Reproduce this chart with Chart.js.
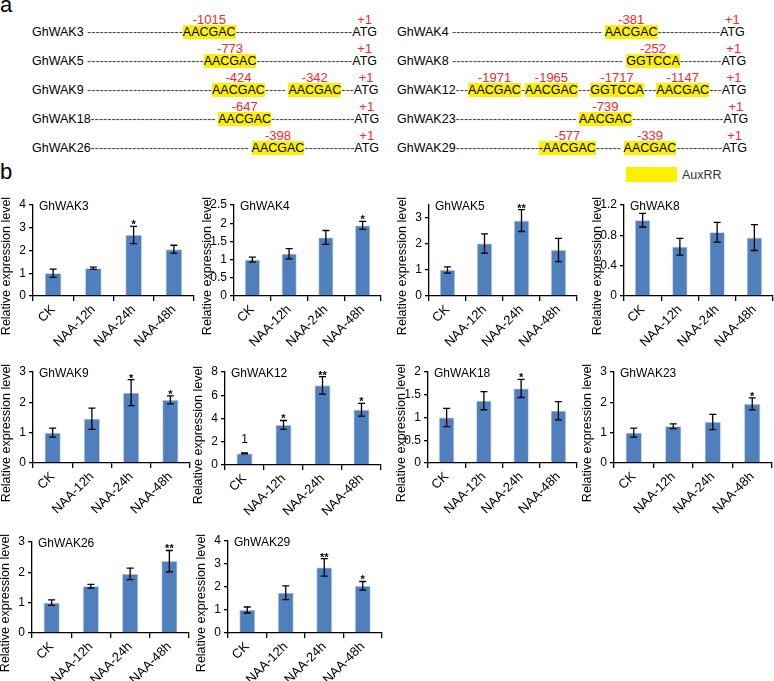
<!DOCTYPE html>
<html>
<head>
<meta charset="utf-8">
<script src="https://cdn.jsdelivr.net/npm/chart.js@4.4.1/dist/chart.umd.min.js"></script>
<style>
  html, body { margin: 0; padding: 0; background: #fff; }
  body { width: 774px; height: 681px; position: relative; overflow: hidden;
         font-family: 'Liberation Sans', Arial, sans-serif; }
  .tag { position: absolute; left: 0; font-size: 22px; line-height: 22px; color: #000; }
  .col { position: absolute; top: 17.5px; font-size: 12.5px; line-height: 29px; white-space: pre; color: #000; }
  .dash { color: #444; }
  .box { position: relative; background: #fff000; }
  .mark { position: relative; }
  .pos { position: absolute; left: 50%; top: -12px; transform: translateX(-50%);
         color: #ee2b2b; font-size: 13px; line-height: 14px; }
  .legend { position: absolute; left: 626px; top: 167px; display: flex; align-items: center;
            font-size: 12.5px; color: #333; }
  .legend i { display: inline-block; width: 51px; height: 15px; background: #fff000; margin-right: 5px; }
  .plot { position: absolute; }
</style>
</head>
<body>
<div class="tag" style="top:-6px">a</div>
<div class="tag" style="top:161px">b</div>
<div class="legend"><i></i><span>AuxRR</span></div>

<script>
// ---- panel a: promoter schematic (numbers = count of dashes) ----
var promoterLeft = [
  ['GhWAK3 ', 23, ['AACGAC', '-1015', 1], 28, ['ATG', '+1', 0]],
  ['GhWAK5 ', 28, ['AACGAC', '-773', 1], 23, ['ATG', '+1', 0]],
  ['GhWAK9 ', 30, ['AACGAC', '-424', 1], 5, ' ', ['AACGAC', '-342', 1], 3, ['ATG', '+1', 0]],
  ['GhWAK18', 30, ' ', ['AACGAC', '-647', 1], 20, ['ATG', '+1', 0]],
  ['GhWAK26', 38, ' ', ['AACGAC', '-398', 1], 12, ['ATG', '+1', 0]]
];
var promoterRight = [
  ['GhWAK4 ', 36, ' ', ['AACGAC', '-381', 1], 15, ['ATG', '+1', 0]],
  ['GhWAK8 ', 41, ' ', ['GGTCCA', '-252', 1], 10, ['ATG', '+1', 0]],
  ['GhWAK12', 3, ['AACGAC', '-1971', 1], 1, ['AACGAC', '-1965', 1], 3, ['GGTCCA', '-1717', 1], 3,
   ['AACGAC', '-1147', 1], 3, ['ATG', '+1', 0]],
  ['GhWAK23', 29, ' ', ['AACGAC', '-739', 1], 22, ['ATG', '+1', 0]],
  ['GhWAK29', 20, ['-AACGAC', '-577', 1], 6, ' ', ['AACGAC', '-339', 1], 11, ['ATG', '+1', 0]]
];

// ---- panel b: qRT-PCR bars ----
var categories = ['CK', 'NAA-12h', 'NAA-24h', 'NAA-48h'];
var genes = ['GhWAK3', 'GhWAK4', 'GhWAK5', 'GhWAK8', 'GhWAK9', 'GhWAK12', 'GhWAK18', 'GhWAK23', 'GhWAK26', 'GhWAK29'];
var mean3 = [1.00, 1.22, 2.68, 2.05];
var err3 = [0.18, 0.05, 0.38, 0.18];
var sig3 = ['', '', '*', ''];
var mean4 = [1.00, 1.16, 1.61, 1.94];
var err4 = [0.07, 0.14, 0.19, 0.11];
var sig4 = ['', '', '', '*'];
var mean5 = [1.00, 2.02, 2.90, 1.77];
var err5 = [0.12, 0.37, 0.42, 0.45];
var sig5 = ['', '', '**', ''];
var mean8 = [1.00, 0.65, 0.84, 0.77];
var err8 = [0.09, 0.11, 0.13, 0.17];
var sig8 = ['', '', '', ''];
var mean9 = [1.00, 1.46, 2.32, 2.08];
var err9 = [0.15, 0.35, 0.43, 0.13];
var sig9 = ['', '', '*', '*'];
var mean12 = [1.00, 3.45, 6.85, 4.75];
var err12 = [0.05, 0.38, 0.75, 0.55];
var sig12 = ['1', '*', '**', '*'];
var mean18 = [1.00, 1.37, 1.64, 1.15];
var err18 = [0.20, 0.20, 0.20, 0.20];
var sig18 = ['', '', '*', ''];
var mean23 = [1.00, 1.21, 1.35, 1.95];
var err23 = [0.15, 0.08, 0.25, 0.20];
var sig23 = ['', '', '', '*'];
var mean26 = [1.00, 1.54, 1.95, 2.37];
var err26 = [0.09, 0.06, 0.19, 0.35];
var sig26 = ['', '', '', '**'];
var mean29 = [1.00, 1.75, 2.85, 2.05];
var err29 = [0.13, 0.30, 0.38, 0.19];
var sig29 = ['', '', '**', '*'];
var yMax = [4, 2.5, 3.5, 1.2, 3, 8, 2, 3, 3, 4];
var yStep = [1, 0.5, 0.5, 0.4, 1, 2, 0.5, 1, 1, 1];

var means = [mean3, mean4, mean5, mean8, mean9, mean12, mean18, mean23, mean26, mean29];
var errs = [err3, err4, err5, err8, err9, err12, err18, err23, err26, err29];
var sigs = [sig3, sig4, sig5, sig8, sig9, sig12, sig18, sig23, sig26, sig29];

// layout: [y-axis x, plot top, plot bottom, plot width]
var boxes = [
  [33, 205, 296, 161], [234, 205, 296, 147], [429, 205, 296, 148], [624, 205, 296, 149],
  [33, 372, 463, 157], [225, 372, 465, 156], [428, 372, 463, 149], [614, 372, 463, 158],
  [32, 542, 633, 157], [228, 541, 633, 154]
];
var FONT = "'Liberation Sans', Arial, sans-serif";
var PAD_TOP = 14, Y_W = 33, X_H = 58, PAD_R = 2;

function buildColumn(rows, left) {
  var col = document.createElement('div');
  col.className = 'col';
  col.style.left = left + 'px';
  rows.forEach(function (row) {
    var line = document.createElement('div');
    row.forEach(function (seg) {
      var s = document.createElement('span');
      if (typeof seg === 'number') {
        s.className = 'dash';
        s.textContent = new Array(seg + 1).join('-');
      } else if (Array.isArray(seg)) {
        s.className = seg[2] ? 'box' : 'mark';
        s.textContent = seg[0];
        var p = document.createElement('span');
        p.className = 'pos';
        p.textContent = seg[1];
        s.appendChild(p);
      } else {
        s.textContent = seg;
      }
      line.appendChild(s);
    });
    col.appendChild(line);
  });
  document.body.appendChild(col);
}
buildColumn(promoterLeft, 32);
buildColumn(promoterRight, 397);

Chart.defaults.font.family = FONT;
Chart.defaults.color = '#000';
Chart.defaults.animation = false;

var extras = {
  id: 'extras',
  afterDatasetsDraw: function (chart, args, opts) {
    var ctx = chart.ctx, ys = chart.scales.y, area = chart.chartArea;
    var meta = chart.getDatasetMeta(0), vals = chart.data.datasets[0].data;
    ctx.save();
    ctx.strokeStyle = '#000';
    ctx.fillStyle = '#000';
    ctx.lineWidth = 1.3;
    ctx.textAlign = 'center';
    ctx.textBaseline = 'alphabetic';
    meta.data.forEach(function (bar, i) {
      var top = ys.getPixelForValue(vals[i] + opts.err[i]);
      var bot = ys.getPixelForValue(vals[i] - opts.err[i]);
      ctx.beginPath();
      ctx.moveTo(bar.x, top); ctx.lineTo(bar.x, bot);
      ctx.moveTo(bar.x - 3.5, top); ctx.lineTo(bar.x + 3.5, top);
      ctx.moveTo(bar.x - 3.5, bot); ctx.lineTo(bar.x + 3.5, bot);
      ctx.stroke();
      var m = opts.marks[i];
      if (m && m.charAt(0) === '*') {
        ctx.font = 'bold 11px ' + FONT;
        ctx.fillText(m, bar.x, top + 2);
      } else if (m) {
        ctx.font = '12px ' + FONT;
        ctx.fillText(m, bar.x, top - 10);
      }
    });
    ctx.textAlign = 'left';
    ctx.textBaseline = 'middle';
    ctx.font = '12px ' + FONT;
    ctx.fillText(opts.title, area.left + 6, area.top + 2);
    ctx.translate(area.left - 26, area.bottom - 30);
    ctx.rotate(-Math.PI / 2);
    ctx.textAlign = 'center';
    ctx.font = '12.5px ' + FONT;
    ctx.fillText('Relative expression level', 0, 0);
    ctx.restore();
  }
};

genes.forEach(function (gene, k) {
  var b = boxes[k];
  var wrap = document.createElement('div');
  wrap.className = 'plot';
  wrap.style.left = (b[0] - Y_W) + 'px';
  wrap.style.top = (b[1] - PAD_TOP) + 'px';
  wrap.style.width = (Y_W + b[3] + PAD_R) + 'px';
  wrap.style.height = (PAD_TOP + (b[2] - b[1]) + X_H) + 'px';
  var cv = document.createElement('canvas');
  wrap.appendChild(cv);
  document.body.appendChild(wrap);

  new Chart(cv, {
    type: 'bar',
    data: {
      labels: categories,
      datasets: [{
        data: means[k],
        backgroundColor: '#4f7fbc',
        borderColor: '#b3c8e3',
        borderWidth: 0.8,
        barPercentage: 0.41,
        categoryPercentage: 1
      }]
    },
    options: {
      responsive: true,
      maintainAspectRatio: false,
      layout: { padding: { top: PAD_TOP, right: PAD_R, left: 0, bottom: 0 } },
      plugins: {
        legend: { display: false },
        tooltip: { enabled: false },
        extras: { title: gene, err: errs[k], marks: sigs[k] }
      },
      scales: {
        x: {
          grid: { offset: true, drawOnChartArea: false, drawTicks: true, tickLength: 5, color: '#000', lineWidth: 1.3 },
          border: { display: true, color: '#000', width: 1.3 },
          ticks: { autoSkip: false, maxRotation: 45, minRotation: 45, padding: 1, font: { size: 13 }, color: '#000' },
          afterFit: function (s) { s.height = X_H; }
        },
        y: {
          min: 0,
          max: yMax[k],
          grid: { drawOnChartArea: false, drawTicks: true, tickLength: 4, color: '#000', lineWidth: 1.3 },
          border: { display: true, color: '#000', width: 1.3 },
          ticks: {
            stepSize: yStep[k], padding: 3, font: { size: 12 }, color: '#000',
            callback: function (v) { return String(+v.toFixed(1)); }
          },
          afterFit: function (s) { s.width = Y_W; }
        }
      }
    },
    plugins: [extras]
  });
});
</script>
</body>
</html>
